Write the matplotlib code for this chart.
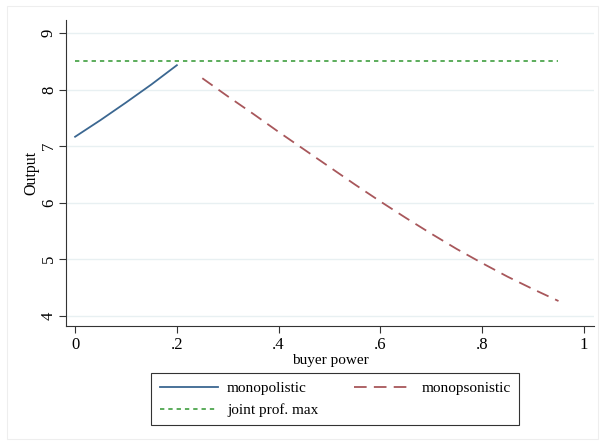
import numpy as np
import matplotlib.pyplot as plt
from matplotlib.patches import Rectangle

# data
x_mono = [0.0, 0.05, 0.10, 0.15, 0.20]
y_mono = [7.165, 7.46, 7.77, 8.09, 8.43]

x_mops = [0.25, 0.30, 0.35, 0.40, 0.45, 0.50, 0.55, 0.60,
          0.65, 0.70, 0.75, 0.80, 0.85, 0.90, 0.95]
y_mops = [8.20, 7.88, 7.57, 7.25, 6.94, 6.63, 6.32, 6.02,
          5.73, 5.45, 5.18, 4.93, 4.69, 4.47, 4.26]

x_joint = [0.0, 0.95]
y_joint = [8.5, 8.5]

xticks = [0, 0.2, 0.4, 0.6, 0.8, 1.0]
xticklabels = ['0', '.2', '.4', '.6', '.8', '1']
yticks = [4, 5, 6, 7, 8, 9]

plt.rcParams['font.family'] = ['Liberation Serif', 'DejaVu Serif']

fig = plt.figure(figsize=(6.05, 4.44), dpi=100)
fig.patches.append(Rectangle((0.011, 0.011), 0.978, 0.976, transform=fig.transFigure,
                             fill=False, edgecolor='#eeeeee', lw=0.8))

ax = fig.add_axes([0.109, 0.266, 0.873, 0.689])

l1, = ax.plot(x_mono, y_mono, color='#3b6791', lw=1.3, label='monopolistic')
l2, = ax.plot(x_mops, y_mops, color='#a8575b', lw=1.3, dashes=(7, 4), label='monopsonistic')
l3, = ax.plot(x_joint, y_joint, color='#4ea64e', lw=1.3, dashes=(2.4, 2.2), label='joint prof. max')

ax.set_xlim(-0.018, 1.02)
ax.set_ylim(3.82, 9.23)
ax.set_xticks(xticks)
ax.set_xticklabels(xticklabels)
ax.set_yticks(yticks)
ax.set_yticklabels([str(v) for v in yticks], rotation=90, va='center')
ax.tick_params(labelsize=12, length=5, width=0.8, color='#333333', pad=3)
ax.tick_params(axis='y', pad=1.5)

ax.grid(axis='y', color='#e8f0f2', lw=1.0)
ax.set_axisbelow(True)
for s in ['top', 'right']:
    ax.spines[s].set_visible(False)
for s in ['left', 'bottom']:
    ax.spines[s].set_color('#333333')
    ax.spines[s].set_linewidth(0.8)

ax.set_xlabel('buyer power', fontsize=11, labelpad=1)
ax.set_ylabel('Output', fontsize=11.5)
ax.yaxis.set_label_coords(-0.05, 0.5)

# order so row 1 = monopolistic / monopsonistic, row 2 = joint
leg = fig.legend(handles=[l1, l3, l2], loc='center', bbox_to_anchor=(0.554, 0.101),
                 ncol=2, fontsize=11, frameon=True, fancybox=False, edgecolor='black',
                 handlelength=3.8, columnspacing=2.35, handletextpad=0.6,
                 borderpad=0.55, labelspacing=0.55)
leg.get_frame().set_linewidth(0.8)

fig.savefig('out.png', dpi=100, facecolor='white')
